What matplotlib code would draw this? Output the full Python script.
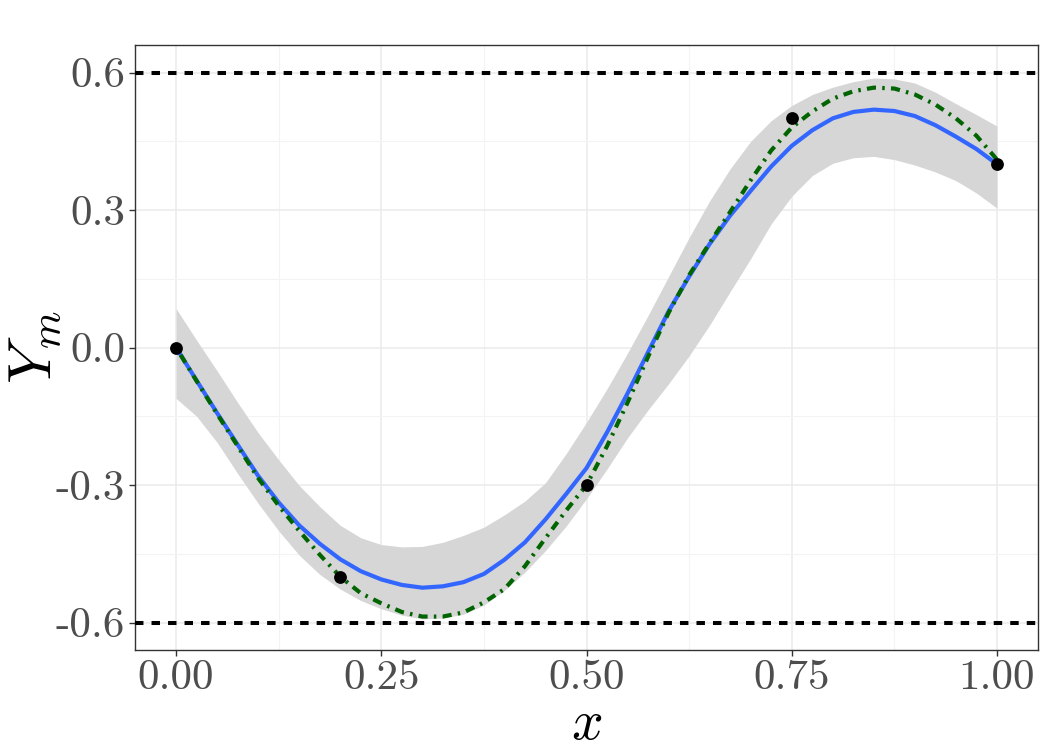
import matplotlib
matplotlib.use("Agg")
import matplotlib.pyplot as plt

plt.rcParams['font.family'] = 'serif'
plt.rcParams['font.serif'] = ['cmr10', 'DejaVu Serif']
plt.rcParams['mathtext.fontset'] = 'cm'
plt.rcParams['axes.unicode_minus'] = False

# observed points
obs_x = [0.0, 0.2, 0.5, 0.75, 1.0]
obs_y = [0.0, -0.5, -0.3, 0.5, 0.4]

# curves on a 0.025 grid
grid_x = [0.0, 0.025, 0.05, 0.075, 0.1, 0.125, 0.15, 0.175, 0.2, 0.225,
          0.25, 0.275, 0.3, 0.325, 0.35, 0.375, 0.4, 0.425, 0.45, 0.475,
          0.5, 0.525, 0.55, 0.575, 0.6, 0.625, 0.65, 0.675, 0.7, 0.725,
          0.75, 0.775, 0.8, 0.825, 0.85, 0.875, 0.9, 0.925, 0.95, 0.975, 1.0]
mean_y = [0.0, -0.072, -0.143, -0.212, -0.28, -0.338, -0.388, -0.428, -0.462, -0.488,
          -0.506, -0.518, -0.524, -0.521, -0.512, -0.494, -0.463, -0.425, -0.375, -0.32,
          -0.263, -0.185, -0.10, -0.01, 0.079, 0.155, 0.226, 0.288, 0.342, 0.395,
          0.44, 0.474, 0.50, 0.514, 0.519, 0.516, 0.505, 0.485, 0.46, 0.433, 0.40]
true_y = [0.0, -0.073, -0.145, -0.215, -0.285, -0.345, -0.40, -0.452, -0.50, -0.536,
          -0.558, -0.577, -0.587, -0.587, -0.578, -0.556, -0.527, -0.477, -0.416, -0.356,
          -0.30, -0.215, -0.12, -0.02, 0.076, 0.158, 0.228, 0.296, 0.365, 0.43,
          0.48, 0.515, 0.543, 0.559, 0.567, 0.565, 0.552, 0.53, 0.50, 0.462, 0.41]
upper_y = [0.085, 0.016, -0.051, -0.12, -0.186, -0.245, -0.301, -0.347, -0.388, -0.415,
           -0.43, -0.435, -0.434, -0.425, -0.41, -0.392, -0.365, -0.335, -0.295, -0.232,
           -0.163, -0.09, -0.012, 0.07, 0.155, 0.24, 0.32, 0.39, 0.45, 0.495,
           0.528, 0.552, 0.568, 0.58, 0.588, 0.586, 0.577, 0.557, 0.532, 0.508, 0.483]
lower_y = [-0.111, -0.15, -0.207, -0.275, -0.34, -0.40, -0.453, -0.495, -0.527, -0.552,
           -0.57, -0.584, -0.592, -0.59, -0.582, -0.562, -0.53, -0.49, -0.443, -0.39,
           -0.33, -0.265, -0.197, -0.136, -0.079, -0.018, 0.049, 0.122, 0.194, 0.27,
           0.33, 0.375, 0.402, 0.414, 0.417, 0.41, 0.398, 0.383, 0.364, 0.337, 0.304]

bounds = [-0.6, 0.6]
xticks = [0.0, 0.25, 0.5, 0.75, 1.0]
xtick_labels = ['0.00', '0.25', '0.50', '0.75', '1.00']
yticks = [-0.6, -0.3, 0.0, 0.3, 0.6]
ytick_labels = ['-0.6', '-0.3', '0.0', '0.3', '0.6']

fig = plt.figure(figsize=(10.5, 7.5), dpi=100)
ax = fig.add_axes([0.1286, 0.1333, 0.86, 0.8067])

ax.fill_between(grid_x, lower_y, upper_y, color='#d6d6d6', lw=0, zorder=2)
ax.plot(grid_x, mean_y, color='#3366FF', lw=3.0, zorder=3, solid_joinstyle='round')
ax.plot(grid_x, true_y, color='#006400', lw=3.0, zorder=4,
        dashes=[0.6, 1.5, 2.2, 1.5], dash_capstyle='butt', dash_joinstyle='round')
for b in bounds:
    ax.axhline(b, color='black', lw=2.9, dashes=[2.1, 2.0], zorder=5)
ax.scatter(obs_x, obs_y, s=85, color='black', zorder=6, linewidths=0)

ax.set_xlim(-0.05, 1.05)
ax.set_ylim(-0.66, 0.66)
ax.set_xticks(xticks)
ax.set_xticklabels(xtick_labels)
ax.set_yticks(yticks)
ax.set_yticklabels(ytick_labels)
ax.set_xticks([0.125, 0.375, 0.625, 0.875], minor=True)
ax.set_yticks([-0.45, -0.15, 0.15, 0.45], minor=True)

ax.grid(which='major', color='#EBEBEB', lw=1.1, zorder=0)
ax.grid(which='minor', color='#F3F3F3', lw=0.8, zorder=0)
ax.set_axisbelow(True)
ax.tick_params(which='major', length=4, width=1, color='#333333',
               labelsize=31, labelcolor='#4D4D4D', pad=3)
ax.tick_params(which='minor', length=0)
for s in ax.spines.values():
    s.set_color('#333333')
    s.set_linewidth(1.0)

ax.set_xlabel('$x$', fontsize=40, labelpad=2)
ax.set_ylabel('$Y_m$', fontsize=44, va='center')
ax.yaxis.set_label_coords(-0.111, 0.5)

fig.savefig('out.png', dpi=100)
